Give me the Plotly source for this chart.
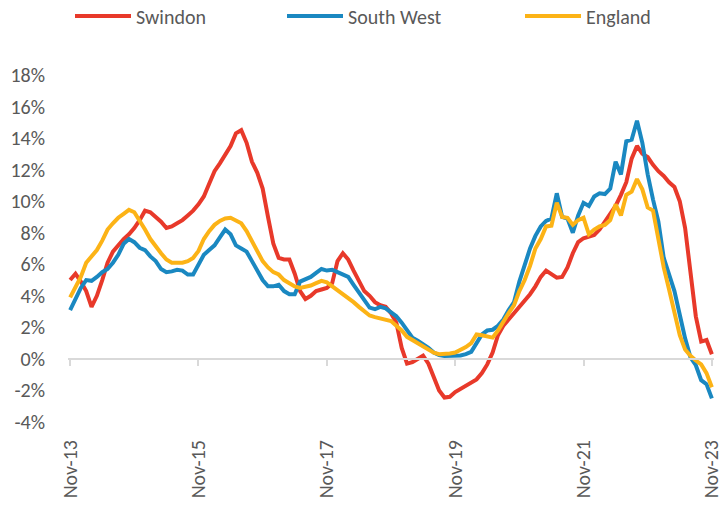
import pandas as pd
import plotly.graph_objects as go

# Monthly categories Nov-13 .. Nov-23
months = [d.strftime("%b-%y") for d in pd.date_range("2013-11-01", "2023-11-01", freq="MS")]
tick_labels = ["Nov-13", "Nov-15", "Nov-17", "Nov-19", "Nov-21", "Nov-23"]

swindon = [
    5.0, 5.4, 4.9, 4.3, 3.3, 4.0, 5.0, 6.1, 6.8, 7.2,
    7.6, 7.9, 8.3, 8.8, 9.4, 9.3, 9.0, 8.7, 8.3, 8.4,
    8.6, 8.8, 9.1, 9.4, 9.8, 10.3, 11.1, 11.9, 12.4, 13.0,
    13.5, 14.3, 14.5, 13.7, 12.5, 11.8, 10.8, 9.0, 7.3, 6.4,
    6.3, 6.3, 5.4, 4.3, 3.8, 4.0, 4.3, 4.4, 4.5, 4.8,
    6.2, 6.7, 6.3, 5.6, 4.9, 4.3, 4.0, 3.6, 3.4, 3.3,
    2.9, 2.3, 0.7, -0.3, -0.2, 0.0, 0.2, -0.3, -1.1, -2.0,
    -2.45, -2.4, -2.1, -1.9, -1.75, -1.55, -1.3, -0.9, -0.35, 0.4,
    1.5, 2.1, 2.5, 2.9, 3.25, 3.7, 4.1, 4.6, 5.2, 5.6,
    5.4, 5.15, 5.2, 5.8, 6.7, 7.4, 7.65, 7.75, 7.85, 8.2,
    8.7, 9.2, 9.7, 10.4, 11.2, 12.7, 13.5, 13.0, 12.8, 12.3,
    11.9, 11.6, 11.2, 10.9, 10.0, 8.3, 5.6, 2.7, 1.1, 1.2,
    0.3,
]

south_west = [
    3.1, 3.8, 4.5, 5.0, 4.95, 5.2, 5.5, 5.7, 6.1, 6.6,
    7.3, 7.6, 7.4, 7.05, 6.9, 6.5, 6.2, 5.7, 5.5, 5.55,
    5.65, 5.6, 5.35, 5.35, 6.0, 6.6, 6.9, 7.2, 7.7, 8.2,
    7.9, 7.2, 7.0, 6.8, 6.2, 5.6, 5.0, 4.6, 4.6, 4.7,
    4.3, 4.1, 4.1, 4.9, 5.05, 5.2, 5.45, 5.7, 5.6, 5.65,
    5.5, 5.35, 5.2, 4.7, 4.2, 3.7, 3.25, 3.15, 3.3, 3.2,
    2.95, 2.7, 2.3, 1.8, 1.35, 1.15, 0.95, 0.7, 0.4, 0.25,
    0.18, 0.18, 0.18, 0.22, 0.3, 0.45, 1.0, 1.55, 1.8, 1.85,
    2.1, 2.5, 3.1, 3.6, 4.9, 5.9, 7.0, 7.8, 8.4, 8.75,
    8.9, 10.5, 9.0, 8.9, 8.0, 9.1, 9.9, 9.7, 10.3, 10.5,
    10.45, 10.8, 12.5, 11.7, 13.8, 13.9, 15.1, 13.7, 11.7, 10.1,
    8.7, 6.4, 5.3, 4.3, 2.8, 1.3, 0.1, -0.4, -1.35, -1.6,
    -2.5,
]

england = [
    3.9, 4.5, 5.2, 6.1, 6.5, 6.9, 7.5, 8.2, 8.6, 8.95,
    9.2, 9.45, 9.3, 8.8, 8.2, 7.6, 7.1, 6.7, 6.3, 6.1,
    6.1, 6.1, 6.2, 6.4, 6.85, 7.6, 8.1, 8.5, 8.75, 8.9,
    8.95, 8.8, 8.6, 8.1, 7.5, 6.8, 6.2, 5.8, 5.5, 5.35,
    5.0, 4.8, 4.6, 4.5, 4.55, 4.65, 4.8, 4.95, 4.85, 4.6,
    4.4, 4.1, 3.9, 3.6, 3.3, 3.0, 2.75, 2.65, 2.55, 2.5,
    2.4, 2.1, 1.8, 1.4, 1.2, 1.0, 0.8, 0.55, 0.4, 0.3,
    0.3, 0.35, 0.4, 0.55, 0.75, 1.0, 1.55, 1.5, 1.4, 1.35,
    1.8, 2.4, 2.9, 3.4, 4.3, 5.0, 5.9, 7.0, 7.6, 8.4,
    8.45, 9.9, 9.0, 8.95, 8.5, 8.8, 8.95, 7.9, 8.2, 8.4,
    8.5, 8.8, 9.8, 9.1, 10.4, 10.6, 11.4, 10.75, 9.6, 9.4,
    7.5, 5.8, 4.4, 3.0, 1.5, 0.6, 0.2, -0.1, -0.35, -0.9,
    -1.8,
]

series = [
    ("Swindon", swindon, "#E8392A", "legend"),
    ("South West", south_west, "#1A88C1", "legend2"),
    ("England", england, "#FCB316", "legend3"),
]

FONT = "Carlito, Calibri, Lato, sans-serif"
GREY = "#595959"

fig = go.Figure()
for name, vals, col, lg in series:
    fig.add_trace(go.Scatter(
        x=months, y=vals, name=name, mode="lines",
        line=dict(color=col, width=4),
        hoverinfo="skip", legend=lg,
    ))

# invisible trace to hold the zero-line axis
fig.add_trace(go.Scatter(x=months, y=[None] * len(months), xaxis="x2",
                         showlegend=False, hoverinfo="skip"))

W, H = 725, 509
yr = [-4, 18]


def legend_at(px_left):
    return dict(
        orientation="h", xref="container", yref="container",
        x=px_left / W, y=1 - 16 / H, xanchor="left", yanchor="middle",
        font=dict(size=20, color=GREY, family=FONT),
        itemwidth=56, bgcolor="rgba(0,0,0,0)",
    )


fig.update_layout(
    width=W, height=H,
    margin=dict(l=68, r=11, t=75, b=87, autoexpand=False),
    paper_bgcolor="white", plot_bgcolor="white",
    font=dict(family=FONT, color=GREY, size=20),
    showlegend=True,
    legend=legend_at(70),
    legend2=legend_at(282),
    legend3=legend_at(520),
    xaxis=dict(
        type="category", range=[-0.4, len(months) - 0.6],
        tickmode="array", tickvals=tick_labels, ticktext=tick_labels,
        tickangle=-90, showline=False, showgrid=False, zeroline=False,
        ticks="outside", ticklen=9, tickcolor="rgba(0,0,0,0)",
        tickfont=dict(size=20, color=GREY, family=FONT),
        automargin=False,
    ),
    xaxis2=dict(
        type="category", matches="x", overlaying="x",
        anchor="free", position=(0 - yr[0]) / (yr[1] - yr[0]),
        tickmode="array", tickvals=tick_labels,
        showticklabels=False, showline=True, linecolor="#D9D9D9", linewidth=1.5,
        ticks="outside", ticklen=6, tickcolor="#D9D9D9", tickwidth=1.5,
        showgrid=False, zeroline=False, automargin=False,
    ),
    yaxis=dict(
        range=yr, tickmode="array",
        tickvals=list(range(-4, 20, 2)),
        ticktext=[f"{v}%" for v in range(-4, 20, 2)],
        showgrid=False, zeroline=False, showline=False,
        ticks="outside", ticklen=18, tickcolor="rgba(0,0,0,0)",
        tickfont=dict(size=20, color=GREY, family=FONT),
        automargin=False,
    ),
)

fig.write_html(
    "out.html",
    config={"displayModeBar": False},
    post_script="document.body.style.margin='0';document.body.style.overflow='hidden';",
)
